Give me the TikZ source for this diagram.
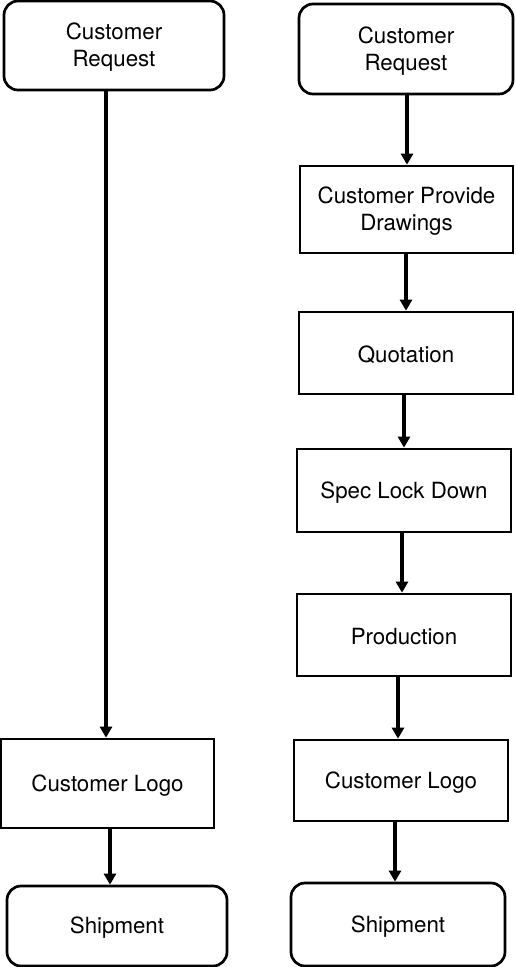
\documentclass[tikz,border=0pt]{standalone}
\usepackage{fontspec}
\setmainfont{TeX Gyre Heros}
\usetikzlibrary{arrows.meta}
\begin{document}
\begin{tikzpicture}[x=1pt,y=-1pt,
  txt/.style={align=center, inner sep=0pt, yshift=-2pt,
    font=\fontsize{22.3}{27}\selectfont},
  box/.style={draw=black, line width=2.7pt, inner sep=0pt, minimum width=214pt},
  rbox/.style={box, rounded corners=14pt},
  arr/.style={line width=3.2pt, -{Triangle[length=11pt,width=12pt]}}]
\useasboundingbox (0,0) rectangle (515,967);
% left column
\node[rbox, minimum width=220pt, minimum height=89pt, label={[txt]center:Customer\\Request}] (L1) at (114,45.5) {};
\node[box, minimum width=213pt, minimum height=89pt, label={[txt]center:Customer Logo}] (L2) at (107.5,783.5) {};
\node[rbox, minimum width=220pt, minimum height=80pt, label={[txt]center:Shipment}] (L3) at (117,926) {};
% right column
\node[rbox, minimum height=90pt, label={[txt]center:Customer\\Request}] (R1) at (406,49) {};
\node[box, minimum width=213pt, minimum height=87pt, label={[txt]center:Customer Provide\\Drawings}] (R2) at (406.5,209.5) {};
\node[box, minimum height=82pt, label={[txt]center:Quotation}] (R3) at (406,353) {};
\node[box, minimum height=83pt, label={[txt]center:Spec Lock Down}] (R4) at (404,490.5) {};
\node[box, minimum height=82pt, label={[txt]center:Production}] (R5) at (404,635) {};
\node[box, minimum height=81pt, label={[txt]center:Customer Logo}] (R6) at (401,780.5) {};
\node[rbox, minimum height=83pt, label={[txt]center:Shipment}] (R7) at (398,924.5) {};
% connectors
\draw[arr] ([xshift=-8pt]L1.south) -- ([xshift=-8pt]L1.south |- L2.north);
\draw[arr] ([xshift=2.5pt]L2.south) -- ([xshift=2.5pt]L2.south |- L3.north);
\draw[arr] ([xshift=1pt]R1.south) -- ([xshift=1pt]R1.south |- R2.north);
\draw[arr] ([xshift=-0.5pt]R2.south) -- ([xshift=-0.5pt]R2.south |- R3.north);
\draw[arr] ([xshift=-2pt]R3.south) -- ([xshift=-2pt]R3.south |- R4.north);
\draw[arr] ([xshift=-2pt]R4.south) -- ([xshift=-2pt]R4.south |- R5.north);
\draw[arr] ([xshift=-6pt]R5.south) -- ([xshift=-6pt]R5.south |- R6.north);
\draw[arr] ([xshift=-6pt]R6.south) -- ([xshift=-6pt]R6.south |- R7.north);
\end{tikzpicture}
\end{document}
